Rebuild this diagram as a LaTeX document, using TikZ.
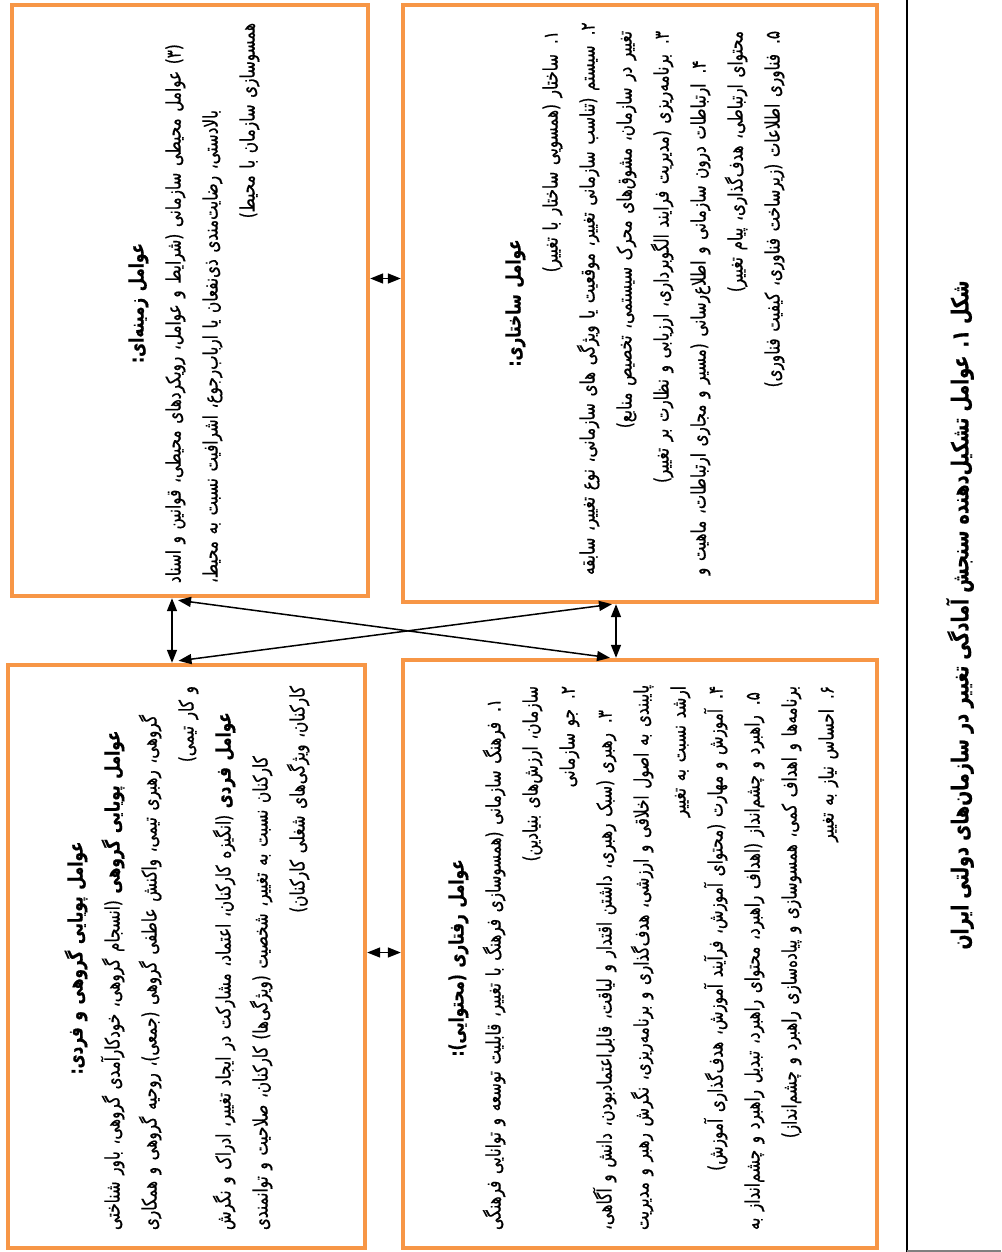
\documentclass[tikz,border=0pt]{standalone}
\usepackage{fontspec}
\usetikzlibrary{arrows.meta,calc}
\newfontfamily\fa[Script=Arabic,FakeStretch=0.76,FakeBold=0.6]{DejaVu Sans}
\TeXXeTstate=1
\definecolor{boxorange}{RGB}{247,150,70}
\newcommand{\fhead}[1]{\hbox to\hsize{\hss\beginR#1\endR\hss}}
\newcommand{\ffull}[1]{\hbox to\hsize{\beginR#1\endR}}
\newcommand{\flast}[1]{\hbox to\hsize{\hss\beginR#1\endR}}
\begin{document}
\begin{tikzpicture}[x=0.5pt,y=-0.5pt,
    facbox/.style={draw=boxorange,line width=2.2pt,inner sep=0pt},
    factext/.style={rotate=90,anchor=north,inner sep=0pt,align=right,text width=272pt,
      font=\fa\fontsize{10}{18.5}\selectfont},
    biarrow/.style={{Triangle[length=6.5pt,width=5pt]}-{Triangle[length=6.5pt,width=5pt]},line width=0.75pt}]
  \useasboundingbox (0,0) rectangle (1001,1252);
  \node[facbox,minimum width=178pt,minimum height=295.5pt] (ctx) at (190,300.5) {};
  \node[facbox,minimum width=237pt,minimum height=298.5pt] (str) at (640,303.5) {};
  \node[facbox,minimum width=178.5pt,minimum height=291.5pt] (grp) at (186.5,956.5) {};
  \node[facbox,minimum width=237pt,minimum height=294pt] (beh) at (640,954) {};
  \node[factext,text width=280pt] (ctxtext) at (128,303) {
    \fhead{\bfseries عوامل زمینه‌ای:}
    \ffull{(۳) عوامل محیطی سازمانی (شرایط و عوامل، رویکردهای محیطی، قوانین و اسناد}
    \ffull{بالادستی، رضایت‌مندی ذی‌نفعان یا ارباب‌رجوع، اشرافیت نسبت به محیط،}
    \flast{همسوسازی سازمان با محیط)}};
  \node[factext] (strtext) at (505,303) {
    \fhead{\bfseries عوامل ساختاری:}
    \flast{۱. ساختار (همسویی ساختار با تغییر)}
    \ffull{۲. سیستم (تناسب سازمانی تغییر، موقعیت یا ویژگی های سازمانی، نوع تغییر، سابقه}
    \flast{تغییر در سازمان، مشوق‌های محرک سیستمی، تخصیص منابع)}
    \flast{۳. برنامه‌ریزی (مدیریت فرایند الگوبرداری، ارزیابی و نظارت بر تغییر)}
    \ffull{۴. ارتباطات درون سازمانی و اطلاع‌رسانی (مسیر و مجاری ارتباطات، ماهیت و}
    \flast{محتوای ارتباطی، هدف‌گذاری، پیام تغییر)}
    \flast{۵. فناوری اطلاعات (زیرساخت فناوری، کیفیت فناوری)}};
  \node[factext] (grptext) at (64,958) {
    \fhead{\bfseries عوامل پویایی گروهی و فردی:}
    \ffull{{\bfseries عوامل پویایی گروهی} (انسجام گروهی، خودکارآمدی گروهی، باور شناختی}
    \ffull{گروهی، رهبری تیمی، واکنش عاطفی گروهی (جمعی)، روحیه گروهی و همکاری}
    \flast{و کار تیمی)}
    \ffull{{\bfseries عوامل فردی} (انگیزه کارکنان، اعتماد، مشارکت در ایجاد تغییر، ادراک و نگرش}
    \ffull{کارکنان نسبت به تغییر، شخصیت (ویژگی‌ها) کارکنان، صلاحیت و توانمندی}
    \flast{کارکنان، ویژگی‌های شغلی کارکنان)}};
  \node[factext] (behtext) at (448,958) {
    \fhead{\bfseries عوامل رفتاری (محتوایی):}
    \ffull{۱. فرهنگ سازمانی (همسوسازی فرهنگ با تغییر، قابلیت توسعه و توانایی فرهنگی}
    \flast{سازمان، ارزش‌های بنیادین)}
    \flast{۲. جو سازمانی}
    \ffull{۳. رهبری (سبک رهبری، داشتن اقتدار و لیاقت، قابل‌اعتمادبودن، دانش و آگاهی،}
    \ffull{پایبندی به اصول اخلاقی و ارزشی، هدف‌گذاری و برنامه‌ریزی، نگرش رهبر و مدیریت}
    \flast{ارشد نسبت به تغییر}
    \flast{۴. آموزش و مهارت (محتوای آموزش، فرآیند آموزش، هدف‌گذاری آموزش)}
    \ffull{۵. راهبرد و چشم‌انداز (اهداف راهبرد، محتوای راهبرد، تبدیل راهبرد و چشم‌انداز به}
    \flast{برنامه‌ها و اهداف کمی، همسوسازی و پیاده‌سازی راهبرد و چشم‌انداز)}
    \flast{۶. احساس نیاز به تغییر}};
  \node[rotate=90,inner sep=0pt,font=\fa\bfseries\fontsize{11.6}{15}\selectfont] (caption) at (960,615)
    {\beginR شکل ۱. عوامل تشکیل‌دهنده سنجش آمادگی تغییر در سازمان‌های دولتی ایران\endR};
  \draw[line width=0.8pt] (907,0) -- (907,1252);
  \draw[gray,line width=1pt] (907,1250.5) -- (1001,1250.5);
  \coordinate (vl) at ($(ctx.south)+(-18,0)$);
  \coordinate (vr) at ($(str.south)+(-24,0)$);
  \coordinate (ht) at ($(ctx.east)+(0,-22)$);
  \coordinate (hb) at ($(grp.east)+(0,-4)$);
  \begin{scope}[biarrow]
    \draw (ht) to (ht -| str.west);
    \draw (hb) to (hb -| beh.west);
    \draw (vl) to (vl |- grp.north);
    \draw (vr) to (vr |- beh.north);
    \draw ($(ctx.south)+(-12,2)$) to ($(beh.north)+(-30,0)$);
    \draw ($(grp.north)+(-8,-2)$) to ($(str.south)+(-28,0)$);
  \end{scope}
\end{tikzpicture}
\end{document}
